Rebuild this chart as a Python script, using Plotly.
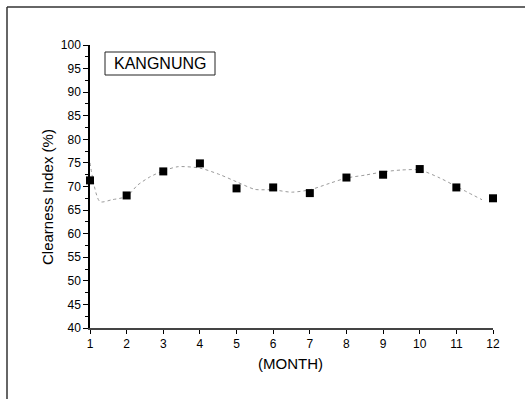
import plotly.graph_objects as go

# Monthly clearness index at Kangnung
months = [1, 2, 3, 4, 5, 6, 7, 8, 9, 10, 11, 12]
clearness = [71.3, 68.1, 73.2, 74.9, 69.6, 69.8, 68.6, 71.9, 72.5, 73.7, 69.8, 67.5]

# Smoothed fit curve through the monthly values
fit_x = [1.0, 1.27, 1.6, 2.0, 2.3, 2.65, 3.0, 3.4, 4.0, 4.55, 5.0, 5.5, 6.0,
         6.5, 7.0, 7.55, 8.0, 8.5, 9.0, 9.5, 10.0, 10.55, 11.0, 11.7]
fit_y = [75.0, 66.8, 67.2, 67.9, 70.3, 72.1, 73.3, 74.2, 73.9, 72.5, 71.0, 69.4, 69.3,
         68.8, 69.3, 70.7, 71.8, 72.4, 73.1, 73.5, 73.5, 71.8, 70.0, 67.2]

x_ticks = months
y_ticks = list(range(40, 101, 5))

W, H = 525, 399
L, R, T, B = 90, 493, 45, 328  # plot area in pixels

fig = go.Figure()
fig.add_trace(go.Scatter(
    x=fit_x, y=fit_y, mode="lines",
    line=dict(color="#9a9a9a", width=1, dash="dot", shape="spline", smoothing=0.7),
    cliponaxis=False, hoverinfo="skip"))
fig.add_trace(go.Scatter(
    x=months, y=clearness, mode="markers",
    marker=dict(symbol="square", size=8, color="black"),
    cliponaxis=False))

font = "Liberation Sans, Arial, sans-serif"


def px_x(p):
    return (p - L) / (R - L)


def px_y(p):
    return (B - p) / (B - T)


frame_color = "#333333"
shapes = [
    dict(type="line", xref="paper", yref="paper",
         x0=px_x(7), x1=px_x(W), y0=px_y(7), y1=px_y(7),
         line=dict(color=frame_color, width=1.5)),
    dict(type="line", xref="paper", yref="paper",
         x0=px_x(7), x1=px_x(7), y0=px_y(7), y1=px_y(H),
         line=dict(color=frame_color, width=1.5)),
    dict(type="rect", xref="paper", yref="paper",
         x0=px_x(105), x1=px_x(215), y0=px_y(75), y1=px_y(52),
         line=dict(color="#222222", width=1)),
]

annotations = [
    dict(text="KANGNUNG", xref="paper", yref="paper", x=px_x(160), y=px_y(63.5),
         showarrow=False, font=dict(family=font, size=16, color="black"),
         xanchor="center", yanchor="middle"),
    dict(text="Clearness Index (%)", xref="paper", yref="paper", x=px_x(47), y=px_y(197),
         showarrow=False, textangle=-90, font=dict(family=font, size=15, color="black"),
         xanchor="center", yanchor="middle"),
    dict(text="(MONTH)", xref="paper", yref="paper", x=px_x(290), y=px_y(363),
         showarrow=False, font=dict(family=font, size=15, color="black"),
         xanchor="center", yanchor="middle"),
]

fig.update_layout(
    width=W, height=H,
    margin=dict(l=L, r=W - R, t=T, b=H - B, pad=0),
    paper_bgcolor="white", plot_bgcolor="white",
    showlegend=False,
    shapes=shapes, annotations=annotations,
    font=dict(family=font, size=12, color="black"),
)
fig.update_xaxes(
    range=[1, 12], tickvals=x_ticks, ticktext=[str(m) for m in x_ticks],
    showgrid=False, zeroline=False,
    showline=True, linecolor="#444444", linewidth=2,
    ticks="outside", ticklen=4, tickcolor="black", tickwidth=1,
    tickfont=dict(family=font, size=12, color="black"),
)
fig.update_yaxes(
    range=[40, 100], tickvals=y_ticks, ticktext=[str(v) for v in y_ticks],
    showgrid=False, zeroline=False,
    showline=True, linecolor="black", linewidth=1.5,
    ticks="outside", ticklen=5, tickcolor="black", tickwidth=1.2,
    minor=dict(dtick=2.5, ticks="outside", ticklen=3, tickcolor="black", tickwidth=1),
    tickfont=dict(family=font, size=12, color="black"),
)

fig.write_html("out.html")
